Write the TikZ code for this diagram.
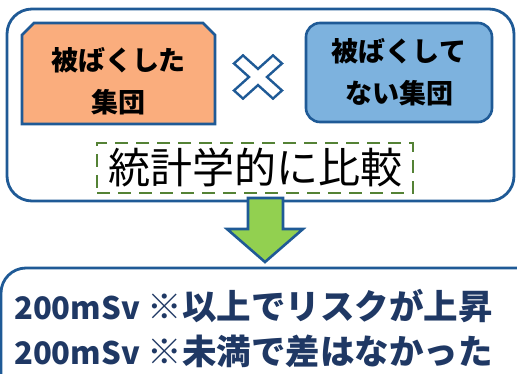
\documentclass[tikz,border=0pt]{standalone}
\usepackage{fontspec}
\setmainfont{Noto Sans CJK JP}
\usetikzlibrary{positioning}
\definecolor{edgeblue}{RGB}{31,90,150}
\definecolor{exposedfill}{RGB}{250,173,125}
\definecolor{controlfill}{RGB}{125,178,222}
\definecolor{dashgreen}{RGB}{84,130,53}
\definecolor{arrowgreen}{RGB}{146,208,80}
\definecolor{resultnavy}{RGB}{31,56,100}
\newcommand{\dosetext}{{\fontsize{31}{45}\selectfont 200mSv}}

\begin{document}
\begin{tikzpicture}[
    x=1pt, y=-1pt,
    every node/.style={inner sep=0pt, align=center},
    groupfont/.style={font=\fontsize{27}{42}\selectfont\bfseries},
    outline/.style={draw=edgeblue, line width=2.6pt},
    frame/.style={draw=edgeblue, line width=2.8pt, rounded corners=25pt}
]
\useasboundingbox (0,0) rectangle (517,374);
% upper frame
\draw[frame] (7,9) rectangle (514,201);
\draw[outline, fill=exposedfill]
    (22,35) -- (34,23) -- (203,23) -- (215,35) -- (215,124) -- (22,124) -- cycle;
\node[groupfont] (exposed) at (118.5,81) {被ばくした\\集団};
\node[outline, groupfont, rounded corners=14pt, fill=controlfill,
      minimum width=186pt, minimum height=99pt]
    (control) at (399,72.5) {被ばくして\\ない集団};
% cross mark
\coordinate (cross) at (258,77);
\draw[edgeblue, line width=2.4pt, fill=white, shift={(cross)}, yscale=0.9]
    (0,-9) -- (15,-24) -- (24,-15) -- (9,0) -- (24,15) -- (15,24)
    -- (0,9) -- (-15,24) -- (-24,15) -- (-9,0) -- (-24,-15)
    -- (-15,-24) -- cycle;
\node[draw=dashgreen, line width=2.8pt, dash pattern=on 13pt off 8pt,
      minimum width=316pt, minimum height=50pt,
      font=\fontsize{42}{42}\selectfont]
    (compare) at (255,168) {統計学的に比較};
% block arrow
\draw[edgeblue, line width=2.6pt, fill=arrowgreen, line join=miter]
    (248,198) -- (283,198) -- (283,229) -- (303,229) -- (265,262)
    -- (227,229) -- (248,229) -- cycle;
% lower frame
\begin{scope}
\clip (0,0) rectangle (517,374);
\draw[frame] (1,268) rectangle (545,430);
\end{scope}
\node[anchor=west, align=left, text=resultnavy,
      font=\fontsize{34.5}{45}\selectfont\bfseries]
    (result) at (14,329) {\dosetext{} ※以上でリスクが上昇\\\dosetext{} ※未満で差はなかった};
\end{tikzpicture}
\end{document}
